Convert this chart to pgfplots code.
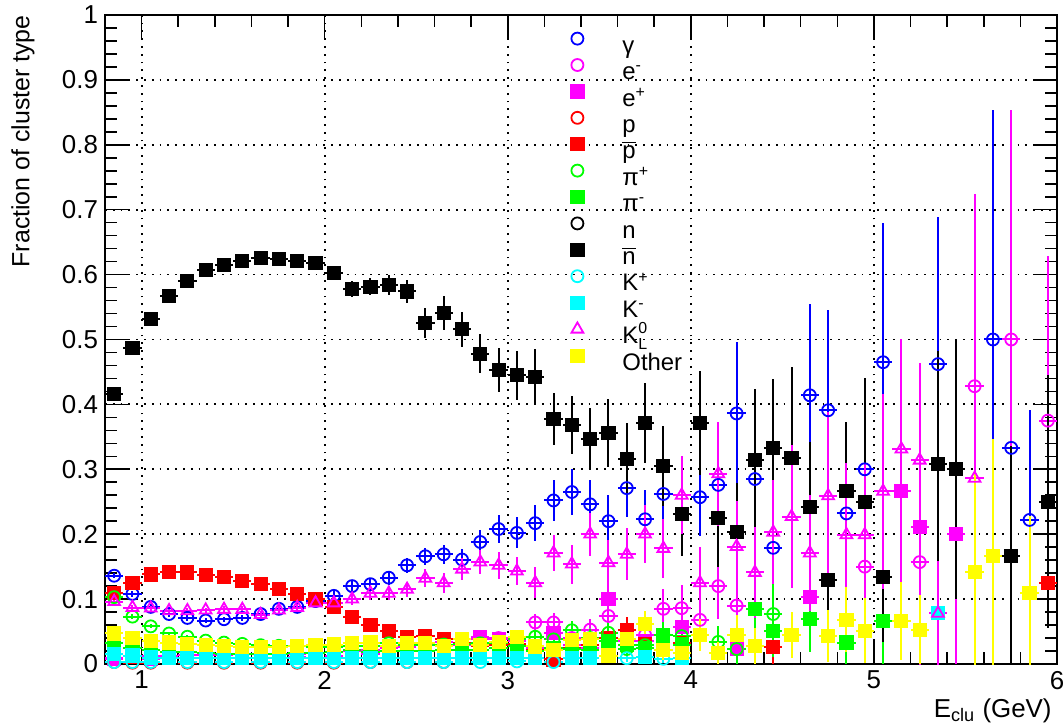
\documentclass[border=0pt]{standalone}
\usepackage{fontspec}
\setmainfont{Liberation Sans}
\usepackage{amsmath}
\usepackage{pgfplots}
\pgfplotsset{compat=1.18}
\definecolor{rblue}{RGB}{0,0,255}
\definecolor{rmag}{RGB}{255,0,255}
\definecolor{rred}{RGB}{255,0,0}
\definecolor{rgreen}{RGB}{0,255,0}
\definecolor{rcyan}{RGB}{0,255,255}
\definecolor{ryellow}{RGB}{255,255,0}
\definecolor{rblack}{RGB}{0,0,0}
\pgfplotsset{
  eb/.style={only marks, color=#1, mark options={solid, line width=0.9bp, #1},
    error bars/x dir=both, error bars/x fixed=0.05,
    error bars/y dir=both, error bars/y explicit,
    error bars/error mark=none,
    error bars/error bar style={#1, solid, line width=1bp}},
}
\begin{document}
\begin{tikzpicture}
\begin{axis}[
  scale only axis, width=476bp, height=324.5bp,
  xmin=0.8, xmax=6, ymin=0, ymax=1,
  xtick={1,2,3,4,5,6},
  ytick={0,0.1,0.2,0.3,0.4,0.5,0.6,0.7,0.8,0.9,1},
  minor x tick num=4, minor y tick num=4,
  tick align=inside, xtick pos=both, ytick pos=both,
  major tick length=12bp, minor tick length=6bp,
  tick style={black, line width=0.8bp},
  axis line style={line width=1bp},
  grid=major,
  major grid style={black, line width=0.9bp, dash pattern=on 0.9bp off 3bp},
  /pgf/number format/assume math mode=true,
  ticklabel style={font=\fontsize{13}{15}\selectfont},
  xlabel={E\textsubscript{clu} (GeV)},
  xlabel style={at={(axis description cs:1,0)}, anchor=base east, yshift=-26.5bp, xshift=-2.5bp, inner sep=0pt, font=\fontsize{13}{15}\selectfont},
  ylabel={Fraction of cluster type},
  ylabel style={at={(axis description cs:-0.0735,1)}, anchor=south east, inner sep=0pt, font=\fontsize{12.5}{15}\selectfont},
  legend style={at={(axis description cs:0.4832,0.9744)}, anchor=north west, draw=none, fill=none,
    font=\fontsize{12}{14}\selectfont, row sep=0pt, column sep=0pt, inner sep=0pt,
    nodes={inner sep=0pt, text height=8.6bp, text depth=2.6bp}, cells={anchor=west}},
  legend image code/.code={\path[draw=none,fill=none] (-6bp,-1.1bp) rectangle (22.5bp,7.6bp);
    \draw[#1,mark repeat=2,mark phase=2] plot coordinates {(-6bp,4.3bp)(0bp,4.3bp)(6bp,4.3bp)};},
]
\coordinate (bl) at (rel axis cs:0,0);
\coordinate (tr) at (rel axis cs:1,1);

% gamma
\addplot[eb=rblue, mark=o, mark size=3bp] table[x=x,y=y,y error=e,row sep=\\]{
x y e\\
0.85 0.136 0.004\\ 0.95 0.108 0.004\\ 1.05 0.088 0.004\\ 1.15 0.077 0.004\\ 1.25 0.071 0.004\\
1.35 0.067 0.004\\ 1.45 0.069 0.004\\ 1.55 0.071 0.005\\ 1.65 0.077 0.005\\ 1.75 0.085 0.006\\
1.85 0.088 0.006\\ 1.95 0.097 0.007\\ 2.05 0.105 0.008\\ 2.15 0.120 0.009\\ 2.25 0.123 0.010\\
2.35 0.133 0.011\\ 2.45 0.152 0.012\\ 2.55 0.166 0.013\\ 2.65 0.169 0.015\\ 2.75 0.161 0.016\\
2.85 0.188 0.019\\ 2.95 0.208 0.022\\ 3.05 0.202 0.024\\ 3.15 0.217 0.028\\ 3.25 0.252 0.032\\
3.35 0.265 0.036\\ 3.45 0.246 0.037\\ 3.55 0.220 0.040\\ 3.65 0.271 0.045\\ 3.75 0.223 0.045\\
3.85 0.262 0.055\\ 4.05 0.257 0.060\\ 4.15 0.276 0.075\\ 4.25 0.386 0.110\\ 4.35 0.285 0.090\\
4.45 0.179 0.085\\ 4.65 0.414 0.140\\ 4.75 0.391 0.155\\ 4.85 0.232 0.100\\ 4.95 0.300 0.130\\
5.05 0.465 0.215\\ 5.35 0.462 0.226\\ 5.65 0.500 0.354\\ 5.75 0.333 0.270\\ 5.85 0.222 0.170\\
};
\addlegendentry{γ}

% e-
\addplot[eb=rmag, mark=o, mark size=3bp] table[x=x,y=y,y error=e,row sep=\\]{
x y e\\
0.85 0.010 0.002\\ 0.95 0.012 0.002\\ 1.05 0.013 0.002\\ 1.15 0.013 0.002\\ 1.25 0.014 0.002\\
1.35 0.014 0.002\\ 1.45 0.014 0.002\\ 1.55 0.015 0.002\\ 1.65 0.015 0.002\\ 1.75 0.016 0.003\\
1.85 0.016 0.003\\ 1.95 0.017 0.003\\ 2.05 0.018 0.003\\ 2.15 0.020 0.004\\ 2.25 0.022 0.004\\
2.35 0.024 0.004\\ 2.45 0.026 0.005\\ 2.55 0.030 0.005\\ 2.65 0.034 0.006\\ 2.75 0.030 0.006\\
2.85 0.038 0.007\\ 2.95 0.040 0.008\\ 3.05 0.035 0.008\\ 3.15 0.064 0.013\\ 3.25 0.064 0.014\\
3.35 0.040 0.013\\ 3.45 0.053 0.016\\ 3.55 0.074 0.020\\ 3.65 0.035 0.017\\ 3.75 0.045 0.020\\
3.85 0.085 0.030\\ 3.95 0.086 0.035\\ 4.05 0.068 0.035\\ 4.15 0.120 0.050\\ 4.25 0.090 0.050\\
4.95 0.150 0.100\\ 5.25 0.157 0.200\\ 5.55 0.428 0.296\\ 5.75 0.500 0.354\\ 5.95 0.375 0.253\\
};
\addlegendentry{e\textsuperscript{-}}

% e+
\addplot[eb=rmag, mark=square*, mark size=3.1bp] table[x=x,y=y,y error=e,row sep=\\]{
x y e\\
0.85 0.008 0.002\\ 1.05 0.008 0.002\\ 1.25 0.009 0.002\\ 1.45 0.009 0.002\\ 1.65 0.010 0.002\\
1.85 0.011 0.003\\ 2.05 0.012 0.003\\ 2.25 0.015 0.004\\ 2.45 0.020 0.005\\ 2.55 0.030 0.006\\
2.65 0.038 0.007\\ 2.75 0.030 0.007\\ 2.85 0.042 0.008\\ 2.95 0.038 0.008\\ 3.05 0.030 0.008\\
3.15 0.025 0.009\\ 3.25 0.048 0.012\\ 3.35 0.030 0.011\\ 3.45 0.025 0.011\\ 3.55 0.100 0.030\\
3.75 0.035 0.020\\ 3.95 0.057 0.030\\ 4.25 0.023 0.023\\ 4.65 0.103 0.060\\ 5.15 0.267 0.220\\
5.25 0.211 0.200\\ 5.45 0.200 0.200\\
};
\addlegendentry{e\textsuperscript{+}}

% p
\addplot[eb=rred, mark=o, mark size=3bp] table[x=x,y=y,y error=e,row sep=\\]{
x y e\\
0.85 0.003 0.001\\ 0.95 0.002 0.001\\ 1.05 0.002 0.001\\ 1.25 0.002 0.001\\ 1.45 0.002 0.001\\
1.65 0.002 0.001\\ 1.85 0.002 0.001\\ 2.05 0.002 0.001\\ 2.25 0.003 0.001\\ 2.45 0.003 0.001\\
2.65 0.003 0.001\\
};
\addlegendentry{p}

% pbar
\addplot[eb=rred, mark=square*, mark size=3.1bp] table[x=x,y=y,y error=e,row sep=\\]{
x y e\\
0.85 0.110 0.004\\ 0.95 0.125 0.004\\ 1.05 0.138 0.004\\ 1.15 0.142 0.004\\ 1.25 0.141 0.004\\
1.35 0.137 0.004\\ 1.45 0.134 0.005\\ 1.55 0.128 0.005\\ 1.65 0.123 0.005\\ 1.75 0.115 0.005\\
1.85 0.108 0.006\\ 1.95 0.100 0.006\\ 2.05 0.088 0.006\\ 2.15 0.072 0.006\\ 2.25 0.060 0.006\\
2.35 0.051 0.006\\ 2.45 0.042 0.006\\ 2.55 0.043 0.007\\ 2.65 0.038 0.007\\ 2.75 0.032 0.007\\
2.85 0.028 0.007\\ 2.95 0.030 0.008\\ 3.05 0.031 0.009\\ 3.15 0.022 0.009\\ 3.25 0.007 0.006\\
3.35 0.025 0.012\\ 3.45 0.030 0.013\\ 3.55 0.040 0.017\\ 3.65 0.052 0.020\\ 3.75 0.030 0.018\\
3.85 0.022 0.018\\ 3.95 0.032 0.022\\ 4.45 0.026 0.026\\ 5.95 0.125 0.030\\
};
\addlegendentry{$\overline{\hbox{p}}$}

% pi+
\addplot[eb=rgreen, mark=o, mark size=3bp] table[x=x,y=y,y error=e,row sep=\\]{
x y e\\
0.85 0.103 0.004\\ 0.95 0.073 0.004\\ 1.05 0.058 0.003\\ 1.15 0.047 0.003\\ 1.25 0.042 0.003\\
1.35 0.036 0.003\\ 1.45 0.033 0.003\\ 1.55 0.031 0.003\\ 1.65 0.029 0.003\\ 1.75 0.028 0.003\\
1.85 0.027 0.003\\ 1.95 0.026 0.004\\ 2.05 0.026 0.004\\ 2.15 0.027 0.004\\ 2.25 0.027 0.005\\
2.35 0.032 0.005\\ 2.45 0.030 0.005\\ 2.55 0.030 0.006\\ 2.65 0.030 0.006\\ 2.75 0.031 0.007\\
2.85 0.032 0.007\\ 2.95 0.033 0.008\\ 3.05 0.038 0.009\\ 3.15 0.042 0.010\\ 3.25 0.038 0.011\\
3.35 0.052 0.014\\ 3.45 0.040 0.014\\ 3.55 0.048 0.016\\ 3.65 0.023 0.013\\ 3.75 0.029 0.015\\
3.85 0.045 0.020\\ 3.95 0.043 0.022\\ 4.15 0.034 0.025\\ 4.25 0.023 0.023\\ 4.45 0.077 0.050\\
};
\addlegendentry{π\textsuperscript{+}}

% pi-
\addplot[eb=rgreen, mark=square*, mark size=3.1bp] table[x=x,y=y,y error=e,row sep=\\]{
x y e\\
0.85 0.033 0.003\\ 0.95 0.025 0.003\\ 1.05 0.021 0.002\\ 1.15 0.019 0.002\\ 1.25 0.018 0.002\\
1.35 0.017 0.002\\ 1.45 0.016 0.002\\ 1.55 0.016 0.002\\ 1.65 0.016 0.002\\ 1.75 0.016 0.003\\
1.85 0.017 0.003\\ 1.95 0.017 0.003\\ 2.05 0.018 0.003\\ 2.15 0.022 0.004\\ 2.25 0.019 0.004\\
2.35 0.020 0.004\\ 2.45 0.020 0.004\\ 2.55 0.020 0.005\\ 2.65 0.021 0.005\\ 2.75 0.022 0.006\\
2.85 0.022 0.006\\ 2.95 0.024 0.007\\ 3.05 0.027 0.008\\ 3.15 0.020 0.008\\ 3.25 0.025 0.009\\
3.35 0.023 0.010\\ 3.45 0.022 0.010\\ 3.55 0.036 0.014\\ 3.65 0.030 0.014\\ 3.75 0.025 0.014\\
3.85 0.044 0.020\\ 3.95 0.030 0.018\\ 4.35 0.085 0.050\\ 4.45 0.051 0.040\\ 4.65 0.069 0.050\\
4.85 0.033 0.033\\ 5.05 0.066 0.066\\
};
\addlegendentry{π\textsuperscript{-}}

% n (no visible points)
\addlegendimage{only marks, mark=o, rblack, mark size=3bp, mark options={solid, line width=0.9bp}}
\addlegendentry{n}

% nbar
\addplot[eb=rblack, mark=square*, mark size=3.1bp] table[x=x,y=y,y error=e,row sep=\\]{
x y e\\
0.85 0.416 0.005\\ 0.95 0.487 0.005\\ 1.05 0.532 0.005\\ 1.15 0.567 0.005\\ 1.25 0.590 0.006\\
1.35 0.607 0.006\\ 1.45 0.615 0.006\\ 1.55 0.621 0.007\\ 1.65 0.626 0.007\\ 1.75 0.624 0.008\\
1.85 0.621 0.009\\ 1.95 0.618 0.010\\ 2.05 0.602 0.011\\ 2.15 0.578 0.012\\ 2.25 0.581 0.013\\
2.35 0.584 0.015\\ 2.45 0.574 0.017\\ 2.55 0.525 0.023\\ 2.65 0.541 0.026\\ 2.75 0.516 0.027\\
2.85 0.478 0.030\\ 2.95 0.453 0.034\\ 3.05 0.445 0.038\\ 3.15 0.442 0.043\\ 3.25 0.377 0.040\\
3.35 0.368 0.045\\ 3.45 0.347 0.048\\ 3.55 0.356 0.052\\ 3.65 0.316 0.055\\ 3.75 0.371 0.062\\
3.85 0.305 0.062\\ 3.95 0.231 0.065\\ 4.05 0.371 0.080\\ 4.15 0.225 0.075\\ 4.25 0.204 0.075\\
4.35 0.314 0.110\\ 4.45 0.333 0.106\\ 4.55 0.317 0.140\\ 4.65 0.242 0.100\\ 4.75 0.129 0.100\\
4.85 0.267 0.106\\ 4.95 0.250 0.190\\ 5.05 0.134 0.100\\ 5.35 0.308 0.175\\ 5.45 0.300 0.200\\
5.75 0.166 0.170\\ 5.95 0.250 0.195\\
};
\addlegendentry{$\overline{\hbox{n}}$}

% K+
\addplot[eb=rcyan, mark=o, mark size=3bp] table[x=x,y=y,y error=e,row sep=\\]{
x y e\\
0.85 0.003 0.001\\ 0.95 0.003 0.001\\ 1.05 0.003 0.001\\ 1.25 0.003 0.001\\ 1.45 0.003 0.001\\
1.65 0.003 0.001\\ 1.85 0.003 0.001\\ 2.05 0.003 0.001\\ 2.25 0.003 0.001\\ 2.45 0.003 0.001\\
2.65 0.003 0.001\\ 2.85 0.003 0.001\\ 3.05 0.004 0.002\\ 3.25 0.003 0.002\\ 3.65 0.009 0.006\\
3.85 0.008 0.006\\
};
\addlegendentry{K\textsuperscript{+}}

% K-
\addplot[eb=rcyan, mark=square*, mark size=3.1bp] table[x=x,y=y,y error=e,row sep=\\]{
x y e\\
0.85 0.016 0.002\\ 0.95 0.013 0.002\\ 1.05 0.010 0.002\\ 1.15 0.009 0.001\\ 1.25 0.009 0.001\\
1.35 0.009 0.001\\ 1.45 0.009 0.001\\ 1.55 0.009 0.001\\ 1.65 0.009 0.001\\ 1.75 0.009 0.002\\
1.85 0.009 0.002\\ 1.95 0.009 0.002\\ 2.05 0.009 0.002\\ 2.15 0.009 0.002\\ 2.25 0.009 0.002\\
2.35 0.009 0.002\\ 2.45 0.009 0.002\\ 2.55 0.009 0.003\\ 2.65 0.009 0.003\\ 2.75 0.009 0.003\\
2.85 0.009 0.003\\ 2.95 0.009 0.003\\ 3.05 0.009 0.004\\ 3.15 0.010 0.004\\ 3.35 0.009 0.004\\
3.45 0.009 0.004\\ 3.75 0.011 0.006\\ 3.95 0.010 0.007\\ 5.35 0.078 0.078\\
};
\addlegendentry{K\textsuperscript{-}}

% KL0
\addplot[eb=rmag, mark=triangle, mark size=3.4bp] table[x=x,y=y,y error=e,row sep=\\]{
x y e\\
0.85 0.096 0.004\\ 0.95 0.087 0.004\\ 1.05 0.086 0.004\\ 1.15 0.082 0.004\\ 1.25 0.082 0.004\\
1.35 0.083 0.004\\ 1.45 0.084 0.005\\ 1.55 0.084 0.005\\ 1.65 0.076 0.005\\ 1.75 0.083 0.006\\
1.85 0.087 0.006\\ 1.95 0.094 0.007\\ 2.05 0.094 0.008\\ 2.15 0.100 0.009\\ 2.25 0.109 0.010\\
2.35 0.109 0.011\\ 2.45 0.115 0.012\\ 2.55 0.132 0.014\\ 2.65 0.125 0.015\\ 2.75 0.146 0.017\\
2.85 0.157 0.019\\ 2.95 0.152 0.021\\ 3.05 0.143 0.022\\ 3.15 0.125 0.024\\ 3.25 0.171 0.028\\
3.35 0.154 0.030\\ 3.45 0.200 0.033\\ 3.55 0.156 0.035\\ 3.65 0.169 0.040\\ 3.75 0.200 0.045\\
3.85 0.178 0.045\\ 3.95 0.260 0.060\\ 4.05 0.125 0.055\\ 4.15 0.293 0.080\\ 4.25 0.181 0.070\\
4.35 0.141 0.070\\ 4.45 0.203 0.080\\ 4.55 0.227 0.110\\ 4.65 0.171 0.090\\ 4.75 0.259 0.130\\
4.85 0.199 0.110\\ 4.95 0.199 0.110\\ 5.05 0.266 0.150\\ 5.15 0.331 0.170\\ 5.25 0.314 0.150\\
5.35 0.078 0.080\\ 5.55 0.286 0.250\\
};
\addlegendentry{$\text{K}^{\text{0}}_{\text{L}}$}

% Other
\addplot[eb=ryellow, mark=square*, mark size=3.1bp] table[x=x,y=y,y error=e,row sep=\\]{
x y e\\
0.85 0.047 0.003\\ 0.95 0.040 0.003\\ 1.05 0.036 0.003\\ 1.15 0.033 0.003\\ 1.25 0.031 0.003\\
1.35 0.029 0.003\\ 1.45 0.028 0.003\\ 1.55 0.026 0.003\\ 1.65 0.026 0.003\\ 1.75 0.026 0.003\\
1.85 0.028 0.003\\ 1.95 0.029 0.004\\ 2.05 0.030 0.004\\ 2.15 0.032 0.004\\ 2.25 0.033 0.005\\
2.35 0.028 0.005\\ 2.45 0.032 0.005\\ 2.55 0.032 0.006\\ 2.65 0.028 0.006\\ 2.75 0.038 0.007\\
2.85 0.029 0.007\\ 2.95 0.034 0.008\\ 3.05 0.041 0.009\\ 3.15 0.027 0.009\\ 3.25 0.021 0.009\\
3.35 0.037 0.012\\ 3.45 0.038 0.013\\ 3.55 0.013 0.010\\ 3.65 0.038 0.015\\ 3.75 0.062 0.020\\
3.85 0.021 0.015\\ 3.95 0.017 0.015\\ 4.05 0.045 0.025\\ 4.15 0.017 0.017\\ 4.25 0.045 0.030\\
4.35 0.028 0.028\\ 4.55 0.045 0.035\\ 4.75 0.043 0.040\\ 4.85 0.068 0.050\\ 4.95 0.051 0.050\\
5.15 0.066 0.060\\ 5.25 0.053 0.053\\ 5.55 0.142 0.150\\ 5.65 0.166 0.180\\ 5.85 0.110 0.118\\
};
\addlegendentry{Other}
\end{axis}
\pgfresetboundingbox
\path ([xshift=-52.5bp,yshift=-31.5bp]bl) rectangle ([xshift=3.5bp,yshift=7.5bp]tr);
\end{tikzpicture}
\end{document}
